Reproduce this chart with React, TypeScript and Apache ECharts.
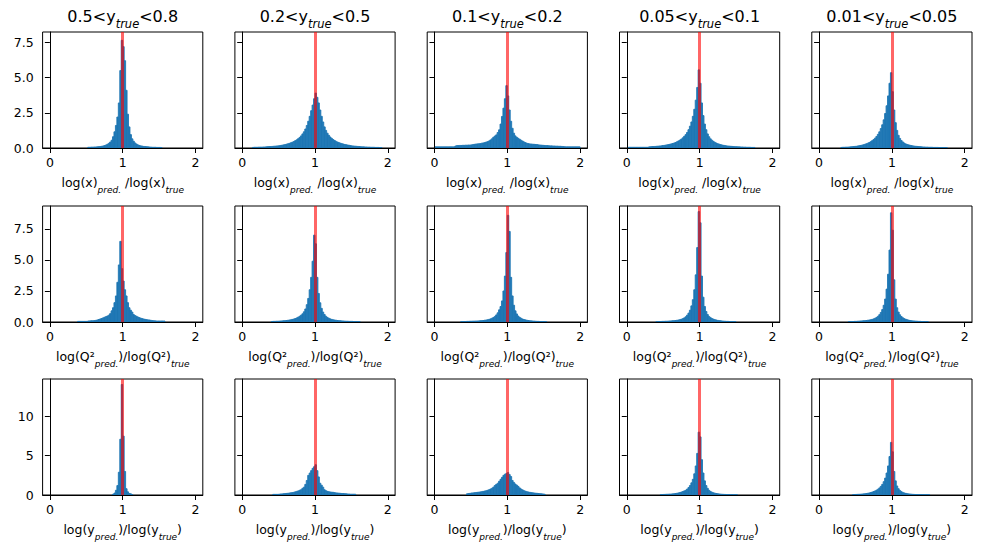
import React, { useEffect, useRef } from "react";
import * as echarts from "echarts";

// Histogram bins: width 0.02 over [0, 2]; each panel stores its first non-empty bin index and the densities.
const BIN_WIDTH = 0.02;

// Column titles (y_true ranges): [before subscript, after subscript]
const columnTitles: [string, string][] = [
  ["0.5<y", "<0.8"],
  ["0.2<y", "<0.5"],
  ["0.1<y", "<0.2"],
  ["0.05<y", "<0.1"],
  ["0.01<y", "<0.05"],
];

const xTickValues = [0, 1, 2];
const rowYTicks = [
  [0, 2.5, 5, 7.5],
  [0, 2.5, 5, 7.5],
  [0, 5, 10],
];
const rowYMax = [8.24, 9.35, 14.77];

// ---------- Row 1: log(x)pred / log(x)true ----------
const logX_y05_08 = {
  first: 26,
  values: [
    0.05, 0.05, 0.06, 0.06, 0.07, 0.07, 0.08, 0.09, 0.1, 0.12, 0.14, 0.17, 0.21, 0.26, 0.33, 0.42,
    0.55, 0.8, 1.15, 1.6, 2.2, 3.2, 5.5, 7.65, 7.2, 6.2, 4.1, 2.4, 1.5, 0.95, 0.65, 0.48,
    0.36, 0.28, 0.22, 0.18, 0.15, 0.13, 0.11, 0.1, 0.09, 0.08, 0.07, 0.06, 0.05, 0.05, 0.05, 0.04,
    0.04, 0.04, 0.03,
  ],
};
const logX_y02_05 = {
  first: 7,
  values: [
    0.04, 0.05, 0.05, 0.05, 0.06, 0.06, 0.06, 0.07, 0.07,
    0.08, 0.09, 0.1, 0.1, 0.11, 0.12, 0.13, 0.14, 0.15, 0.16,
    0.18, 0.2, 0.22, 0.24, 0.27, 0.3, 0.33, 0.37, 0.41, 0.46,
    0.52, 0.58, 0.66, 0.75, 0.86, 1.0, 1.15, 1.35, 1.6, 1.9,
    2.25, 2.65, 3.05, 3.5, 3.9, 3.6, 3.2, 2.7, 2.25, 1.85,
    1.5, 1.25, 1.05, 0.9, 0.78, 0.68, 0.6, 0.53, 0.47, 0.42,
    0.38, 0.34, 0.31, 0.28, 0.25, 0.23, 0.21, 0.19, 0.17, 0.15,
    0.14, 0.13, 0.12, 0.11, 0.1, 0.09, 0.08, 0.08, 0.07, 0.07,
    0.06, 0.06, 0.05, 0.05, 0.05, 0.04, 0.04, 0.04, 0.03, 0.03,
  ],
};
const logX_y01_02 = {
  first: 0,
  values: [
    0.08, 0.08, 0.08, 0.08, 0.08, 0.08, 0.08, 0.08, 0.08, 0.08,
    0.08, 0.08, 0.08, 0.08, 0.14, 0.17, 0.17, 0.18, 0.18, 0.19,
    0.19, 0.2, 0.2, 0.21, 0.21, 0.22, 0.24, 0.26, 0.28, 0.29,
    0.3, 0.31, 0.34, 0.36, 0.38, 0.42, 0.45, 0.5, 0.57, 0.65,
    0.76, 0.85, 0.93, 1.1, 1.29, 1.7, 2.24, 2.83, 3.5, 4.43,
    3.7, 2.7, 1.9, 1.4, 1.05, 0.86, 0.76, 0.69, 0.62, 0.55,
    0.49, 0.43, 0.38, 0.33, 0.31, 0.29, 0.28, 0.27, 0.26, 0.25,
    0.24, 0.22, 0.21, 0.2, 0.19, 0.18, 0.17, 0.17, 0.16, 0.15,
    0.15, 0.14, 0.14, 0.13, 0.13, 0.12, 0.12, 0.11, 0.1, 0.09,
    0.08, 0.08, 0.08, 0.08, 0.08, 0.08, 0.08, 0.08, 0.08, 0.08,
  ],
};
const logX_y005_01 = {
  first: 1,
  values: [
    0.05, 0.05, 0.05, 0.05, 0.05, 0.05, 0.05, 0.05, 0.05, 0.05, 0.05, 0.05, 0.05, 0.05,
    0.08, 0.09, 0.1, 0.1, 0.11, 0.12, 0.13, 0.14, 0.15, 0.17,
    0.18, 0.2, 0.22, 0.24, 0.26, 0.29, 0.32, 0.35, 0.39, 0.44,
    0.5, 0.56, 0.63, 0.72, 0.83, 0.95, 1.1, 1.3, 1.55, 1.85,
    2.25, 2.75, 3.4, 4.3, 5.55, 4.6, 3.2, 2.3, 1.7, 1.3,
    1.0, 0.8, 0.65, 0.55, 0.47, 0.4, 0.35, 0.3, 0.27, 0.24,
    0.21, 0.19, 0.17, 0.15, 0.14, 0.13, 0.12, 0.11, 0.1, 0.09,
    0.09, 0.08, 0.08, 0.07, 0.07, 0.06, 0.06, 0.05, 0.05, 0.05, 0.04, 0.04, 0.04,
  ],
};
const logX_y001_005 = {
  first: 15,
  values: [
    0.04, 0.05, 0.05, 0.06, 0.06, 0.07, 0.08, 0.09, 0.1, 0.11,
    0.12, 0.14, 0.16, 0.18, 0.2, 0.23, 0.26, 0.3, 0.34, 0.39,
    0.45, 0.52, 0.6, 0.7, 0.82, 0.97, 1.15, 1.38, 1.65, 2.0,
    2.45, 3.0, 3.7, 4.6, 5.35, 4.0, 2.7, 1.8, 1.25, 0.9,
    0.68, 0.53, 0.43, 0.35, 0.29, 0.25, 0.22, 0.19, 0.17, 0.15,
    0.13, 0.12, 0.11, 0.1, 0.09, 0.08, 0.07, 0.07, 0.06, 0.06,
    0.05, 0.05, 0.05, 0.04, 0.04, 0.04, 0.04, 0.03, 0.03, 0.03, 0.03, 0.03, 0.03,
  ],
};

// ---------- Row 2: log(Q2)pred / log(Q2)true ----------
const logQ2_y05_08 = {
  first: 19,
  values: [
    0.05, 0.05, 0.05, 0.05, 0.05, 0.05, 0.05, 0.08, 0.09, 0.1, 0.1, 0.11,
    0.13, 0.16, 0.2, 0.24, 0.28, 0.33, 0.38, 0.43, 0.48, 0.55, 0.67, 0.9,
    1.15, 1.56, 2.1, 3.2, 4.6, 6.5, 4.3, 3.3, 2.6, 2.1, 1.56, 1.15,
    0.95, 0.8, 0.6, 0.52, 0.46, 0.4, 0.35, 0.3, 0.27, 0.24, 0.21, 0.19,
    0.17, 0.16, 0.13, 0.11, 0.1, 0.09, 0.08, 0.08, 0.08, 0.08, 0.08, 0.08,
  ],
};
const logQ2_y02_05 = {
  first: 20,
  values: [
    0.04, 0.05, 0.05, 0.06, 0.06, 0.07, 0.08, 0.09, 0.1, 0.11,
    0.12, 0.14, 0.16, 0.18, 0.21, 0.24, 0.28, 0.33, 0.39, 0.46,
    0.55, 0.66, 0.82, 1.05, 1.4, 1.9, 2.6, 3.6, 4.9, 7.0,
    6.3, 3.6, 2.3, 1.55, 1.1, 0.8, 0.6, 0.46, 0.37, 0.3,
    0.25, 0.21, 0.18, 0.16, 0.14, 0.12, 0.11, 0.1, 0.09, 0.08,
    0.07, 0.06, 0.06, 0.05, 0.05, 0.05, 0.04, 0.04, 0.04, 0.03, 0.03,
  ],
};
const logQ2_y01_02 = {
  first: 18,
  values: [
    0.03, 0.03, 0.04, 0.04, 0.05, 0.05, 0.06, 0.06, 0.07, 0.07, 0.08, 0.08,
    0.09, 0.1, 0.11, 0.12, 0.14, 0.16, 0.18, 0.21, 0.25, 0.3, 0.36, 0.45,
    0.57, 0.74, 0.98, 1.25, 1.7, 2.5, 3.7, 5.6, 8.6, 7.3, 3.6, 2.1,
    1.35, 0.9, 0.65, 0.48, 0.37, 0.3, 0.24, 0.2, 0.17, 0.14, 0.12, 0.1,
    0.09, 0.08, 0.07, 0.06, 0.05, 0.05, 0.04, 0.04, 0.04, 0.03, 0.03,
  ],
};
const logQ2_y005_01 = {
  first: 20,
  values: [
    0.03, 0.03, 0.04, 0.04, 0.05, 0.05, 0.06, 0.06, 0.07, 0.08,
    0.09, 0.1, 0.11, 0.12, 0.14, 0.16, 0.19, 0.22, 0.27, 0.33,
    0.42, 0.55, 0.72, 0.95, 1.3, 1.8, 2.6, 3.8, 6.0, 8.9,
    8.0, 3.7, 2.0, 1.25, 0.85, 0.6, 0.45, 0.35, 0.28, 0.23,
    0.19, 0.16, 0.13, 0.11, 0.1, 0.08, 0.07, 0.06, 0.05, 0.05,
    0.04, 0.04, 0.03, 0.03, 0.03,
  ],
};
const logQ2_y001_005 = {
  first: 20,
  values: [
    0.03, 0.03, 0.04, 0.04, 0.05, 0.05, 0.06, 0.07, 0.08, 0.09,
    0.1, 0.11, 0.12, 0.14, 0.16, 0.18, 0.21, 0.25, 0.3, 0.37,
    0.46, 0.59, 0.77, 1.0, 1.35, 1.85, 2.65, 3.85, 5.8, 8.8,
    7.4, 3.4, 1.85, 1.15, 0.8, 0.58, 0.44, 0.34, 0.27, 0.22,
    0.18, 0.15, 0.12, 0.1, 0.09, 0.08, 0.07, 0.06, 0.05, 0.05,
    0.04, 0.04, 0.03, 0.03, 0.03,
  ],
};

// ---------- Row 3: log(y)pred / log(y)true ----------
const logY_y05_08 = {
  first: 43,
  values: [0.1, 0.25, 0.6, 1.2, 2.9, 7.1, 14.07, 7.5, 3.0, 0.8, 0.4, 0.2, 0.15, 0.05],
};
const logY_y02_05 = {
  first: 21,
  values: [
    0.08, 0.08, 0.08, 0.08, 0.1, 0.13, 0.14, 0.16, 0.18, 0.2,
    0.22, 0.25, 0.28, 0.3, 0.34, 0.4, 0.46, 0.52, 0.6, 0.67,
    0.85, 1.0, 1.35, 1.85, 2.5, 2.8, 3.1, 3.4, 3.6, 3.85,
    3.1, 2.3, 1.5, 1.25, 1.0, 0.67, 0.55, 0.46, 0.42, 0.38,
    0.36, 0.34, 0.3, 0.27, 0.25, 0.23, 0.21, 0.19, 0.18, 0.17,
    0.15, 0.13, 0.12, 0.1, 0.1, 0.1, 0.1,
  ],
};
const logY_y01_02 = {
  first: 22,
  values: [
    0.15, 0.18, 0.21, 0.25, 0.27, 0.29, 0.31, 0.34, 0.36, 0.39,
    0.42, 0.46, 0.5, 0.54, 0.6, 0.67, 0.76, 0.85, 1.0, 1.2,
    1.35, 1.5, 1.75, 2.0, 2.25, 2.5, 2.65, 2.75, 2.85, 2.6,
    2.35, 1.85, 1.6, 1.4, 1.25, 1.1, 0.9, 0.76, 0.65, 0.55,
    0.48, 0.42, 0.38, 0.34, 0.3, 0.28, 0.25, 0.23, 0.21, 0.19,
    0.17, 0.15, 0.13, 0.1,
  ],
};
const logY_y005_01 = {
  first: 23,
  values: [
    0.05, 0.06, 0.07, 0.08, 0.09, 0.1, 0.11, 0.12, 0.14, 0.16,
    0.19, 0.22, 0.26, 0.31, 0.37, 0.44, 0.52, 0.6, 0.75, 0.95,
    1.2, 1.55, 2.0, 2.7, 3.7, 5.3, 8.0, 7.4, 4.5, 2.8,
    1.8, 1.2, 0.85, 0.6, 0.45, 0.35, 0.28, 0.23, 0.19, 0.16,
    0.13, 0.11, 0.09, 0.08, 0.07, 0.06, 0.05, 0.05, 0.04, 0.04,
    0.03, 0.03, 0.03,
  ],
};
const logY_y001_005 = {
  first: 23,
  values: [
    0.05, 0.06, 0.07, 0.08, 0.09, 0.1, 0.12, 0.14, 0.16, 0.19,
    0.22, 0.26, 0.31, 0.37, 0.44, 0.52, 0.62, 0.74, 0.9, 1.1,
    1.35, 1.7, 2.15, 2.8, 3.7, 4.9, 6.7, 5.5, 3.0, 1.8,
    1.15, 0.8, 0.58, 0.43, 0.33, 0.26, 0.21, 0.17, 0.14, 0.12,
    0.1, 0.08, 0.07, 0.06, 0.05, 0.05, 0.04, 0.04, 0.03, 0.03,
    0.03, 0.03, 0.03,
  ],
};

const panelRows = [
  [logX_y05_08, logX_y02_05, logX_y01_02, logX_y005_01, logX_y001_005],
  [logQ2_y05_08, logQ2_y02_05, logQ2_y01_02, logQ2_y005_01, logQ2_y001_005],
  [logY_y05_08, logY_y02_05, logY_y01_02, logY_y005_01, logY_y001_005],
];

// x-axis labels (rich text markup, n = normal, s = subscript)
const rowXLabels = [
  "{n|log(x)}{s|pred.}{n| /log(x)}{s|true}",
  "{n|log(Q²}{s|pred.}{n|)/log(Q²)}{s|true}",
  "{n|log(y}{s|pred.}{n|)/log(y}{s|true}{n|)}",
];

const FONT = "DejaVu Sans";
const BLUE = "#1f77b4";

const richLabel = {
  n: { fontFamily: FONT, fontSize: 12.5, color: "#000", lineHeight: 18, verticalAlign: "top" },
  s: { fontFamily: FONT, fontSize: 9, fontStyle: "italic", color: "#000", lineHeight: 10, verticalAlign: "bottom" },
};
const richTitle = {
  n: { fontFamily: FONT, fontSize: 16, color: "#000", lineHeight: 22, verticalAlign: "top" },
  s: { fontFamily: FONT, fontSize: 11.5, fontStyle: "italic", color: "#000", lineHeight: 12, verticalAlign: "bottom" },
};

// Layout
const GRID_LEFT0 = 42.6;
const GRID_STEP_X = 192.3;
const GRID_W = 160.2;
const GRID_TOPS = [32, 206, 379];
const GRID_H = 116;

function buildOption() {
  const grid: any[] = [];
  const xAxis: any[] = [];
  const yAxis: any[] = [];
  const series: any[] = [];
  const graphic: any[] = [];

  columnTitles.forEach(([a, b], c) => {
    graphic.push({
      type: "text",
      x: GRID_LEFT0 + c * GRID_STEP_X + GRID_W / 2,
      y: 19,
      style: {
        text: `{n|${a}}{s|true}{n|${b}}`,
        rich: richTitle,
        align: "center",
        verticalAlign: "middle",
      },
    });
  });

  panelRows.forEach((row, r) => {
    row.forEach((hist, c) => {
      const idx = r * 5 + c;
      grid.push({
        left: GRID_LEFT0 + c * GRID_STEP_X,
        top: GRID_TOPS[r],
        width: GRID_W,
        height: GRID_H,
        show: true,
        borderColor: "#000",
        borderWidth: 1,
        backgroundColor: "transparent",
      });
      xAxis.push({
        type: "value",
        gridIndex: idx,
        min: -0.1,
        max: 2.1,
        z: 5,
        splitLine: { show: false },
        axisLine: { show: true, lineStyle: { color: "#000", width: 1 } },
        axisTick: { show: true, length: 5, customValues: xTickValues, lineStyle: { color: "#000" } },
        axisLabel: {
          show: true,
          customValues: xTickValues,
          margin: 8,
          fontFamily: FONT,
          fontSize: 12.5,
          color: "#000",
          formatter: (v: number) => String(v),
        },
        name: rowXLabels[r],
        nameLocation: "middle",
        nameGap: 28,
        nameTextStyle: { rich: richLabel },
      });
      yAxis.push({
        type: "value",
        gridIndex: idx,
        min: 0,
        max: rowYMax[r],
        z: 5,
        splitLine: { show: false },
        axisLine: { show: true, lineStyle: { color: "#000", width: 1 } },
        axisTick: { show: true, length: 5, customValues: rowYTicks[r], lineStyle: { color: "#000" } },
        axisLabel: {
          show: c === 0,
          customValues: rowYTicks[r],
          margin: 9,
          fontFamily: FONT,
          fontSize: 12.5,
          color: "#000",
          formatter: (v: number) => (r < 2 ? v.toFixed(1) : String(v)),
        },
      });
      const data = hist.values.map((v, k) => [
        (hist.first + k) * BIN_WIDTH,
        (hist.first + k + 1) * BIN_WIDTH,
        v,
      ]);
      series.push({
        type: "custom",
        xAxisIndex: idx,
        yAxisIndex: idx,
        data,
        encode: { x: [0, 1], y: 2 },
        renderItem: (_p: any, api: any) => {
          const p0 = api.coord([api.value(0), api.value(2)]);
          const p1 = api.coord([api.value(1), 0]);
          return {
            type: "rect",
            shape: { x: p0[0], y: p0[1], width: p1[0] - p0[0], height: p1[1] - p0[1] },
            style: { fill: BLUE, stroke: BLUE, lineWidth: 0.9 },
          };
        },
        markLine: {
          silent: true,
          symbol: ["none", "none"],
          label: { show: false },
          lineStyle: { color: "#ff0000", opacity: 0.6, width: 3, type: "solid" },
          data: [{ xAxis: 1 }],
        },
      });
    });
  });

  return {
    animation: false,
    backgroundColor: "#fff",
    grid,
    xAxis,
    yAxis,
    series,
    graphic,
  };
}

export default function App() {
  const ref = useRef<HTMLDivElement>(null);
  useEffect(() => {
    if (!ref.current) return;
    const chart = echarts.init(ref.current, undefined, { renderer: "svg" });
    chart.setOption(buildOption() as any);
    return () => chart.dispose();
  }, []);
  return (
    <div
      ref={ref}
      style={{ position: "fixed", left: 0, top: 0, width: 981, height: 553, background: "#fff" }}
    />
  );
}
